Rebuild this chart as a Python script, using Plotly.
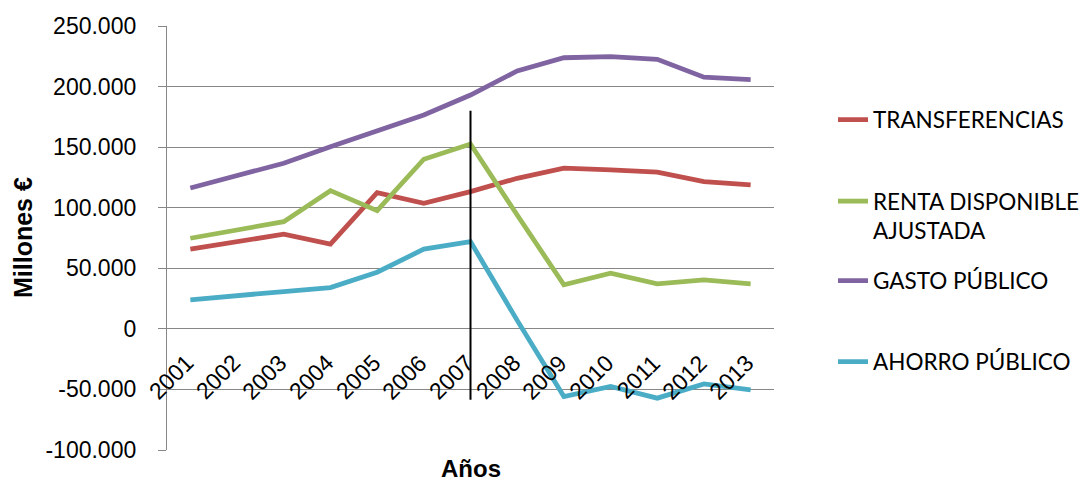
import plotly.graph_objects as go

# Years on the category axis
years = ["2001", "2002", "2003", "2004", "2005", "2006", "2007",
         "2008", "2009", "2010", "2011", "2012", "2013"]

# Series in millions of euros
transferencias = [65800, 72200, 78100, 70000, 112500, 103700, 113300,
                  124300, 132600, 131200, 129300, 121500, 118800]
renta_disponible = [74800, 81500, 88500, 114100, 97600, 140000, 152600,
                    94000, 36300, 46000, 37100, 40400, 37100]
gasto_publico = [116300, 126000, 136700, 150400, 164000, 176600, 193000,
                 212900, 223800, 224700, 222500, 207700, 205700]
ahorro_publico = [23900, 27800, 30800, 34100, 46800, 65800, 72000,
                  7000, -55900, -47600, -57200, -45400, -50300]

series_names = ["TRANSFERENCIAS", "RENTA DISPONIBLE<br>AJUSTADA",
                "GASTO PÚBLICO", "AHORRO PÚBLICO"]
series_values = [transferencias, renta_disponible, gasto_publico, ahorro_publico]
series_colors = ["#C0504D", "#9BBB59", "#8064A2", "#4BACC6"]

# Y axis ticks
y_tick_values = [-100000, -50000, 0, 50000, 100000, 150000, 200000, 250000]
y_tick_labels = ["-100.000", "-50.000", "0", "50.000", "100.000",
                 "150.000", "200.000", "250.000"]

# Vertical marker at the 2007 break
marker_year = "2007"
marker_span = [-58600, 180000]

W, H = 1083, 480
M_L, M_R, M_T, M_B = 167, 309, 26, 30
GRID = "#878787"
TICK_FONT = "Liberation Sans, Arial, sans-serif"
LEGEND_FONT = "Lato, Open Sans, sans-serif"

fig = go.Figure()
legend_ids = ["legend", "legend2", "legend3", "legend4"]
for name, vals, color, lg in zip(series_names, series_values, series_colors, legend_ids):
    fig.add_trace(go.Scatter(
        x=years, y=vals, name=name, mode="lines",
        line=dict(color=color, width=4.8),
        legend=lg,
    ))

mx = years.index(marker_year)
fig.add_shape(type="line", xref="x", yref="y",
              x0=mx, x1=mx, y0=marker_span[0], y1=marker_span[1],
              line=dict(color="black", width=2), layer="above")

# Rotated year labels hanging below the zero line
for i, yr in enumerate(years):
    fig.add_annotation(x=i, y=0, xref="x", yref="y", text=yr,
                       textangle=-45, showarrow=False,
                       xanchor="center", yanchor="middle",
                       xshift=-19, yshift=-48.5,
                       font=dict(family=TICK_FONT, size=23, color="black"))

# Axis titles
fig.add_annotation(x=0, y=0.5, xref="paper", yref="paper", text="<b>Millones €</b>",
                   textangle=-90, showarrow=False, xanchor="center", yanchor="middle",
                   xshift=23 - M_L,
                   font=dict(family=TICK_FONT, size=25, color="black"))
fig.add_annotation(x=0.5, y=0, xref="paper", yref="paper", text="<b>Años</b>",
                   showarrow=False, xanchor="center", yanchor="middle",
                   yshift=-18,
                   font=dict(family=TICK_FONT, size=24, color="black"))

legend_common = dict(xref="container", yref="container", x=833 / W,
                     xanchor="left", bgcolor="rgba(0,0,0,0)", borderwidth=0,
                     font=dict(family=LEGEND_FONT, size=22.5, color="black"),
                     valign="top")

fig.update_layout(
    width=W, height=H,
    margin=dict(l=M_L, r=M_R, t=M_T, b=M_B),
    plot_bgcolor="white", paper_bgcolor="white",
    font=dict(family=TICK_FONT, size=23, color="black"),
    showlegend=True,
    legend=dict(**legend_common, y=1 - 120 / H, yanchor="middle"),
    legend2=dict(**legend_common, y=1 - 180 / H, yanchor="top"),
    legend3=dict(**legend_common, y=1 - 281 / H, yanchor="middle"),
    legend4=dict(**legend_common, y=1 - 362 / H, yanchor="middle"),
    xaxis=dict(type="category", range=[-0.5, len(years) - 0.5],
               showticklabels=False, showgrid=False, zeroline=False,
               showline=False, ticks=""),
    yaxis=dict(range=[-100000, 250000], tickvals=y_tick_values,
               ticktext=y_tick_labels, showgrid=True, gridcolor=GRID,
               gridwidth=1.3, zeroline=False, showline=True,
               linecolor=GRID, linewidth=1.3, ticks="outside", ticklen=8,
               tickcolor=GRID, tickwidth=1.3, ticklabelstandoff=17,
               tickfont=dict(family=TICK_FONT, size=23, color="black")),
)

fig.write_html("out.html")
